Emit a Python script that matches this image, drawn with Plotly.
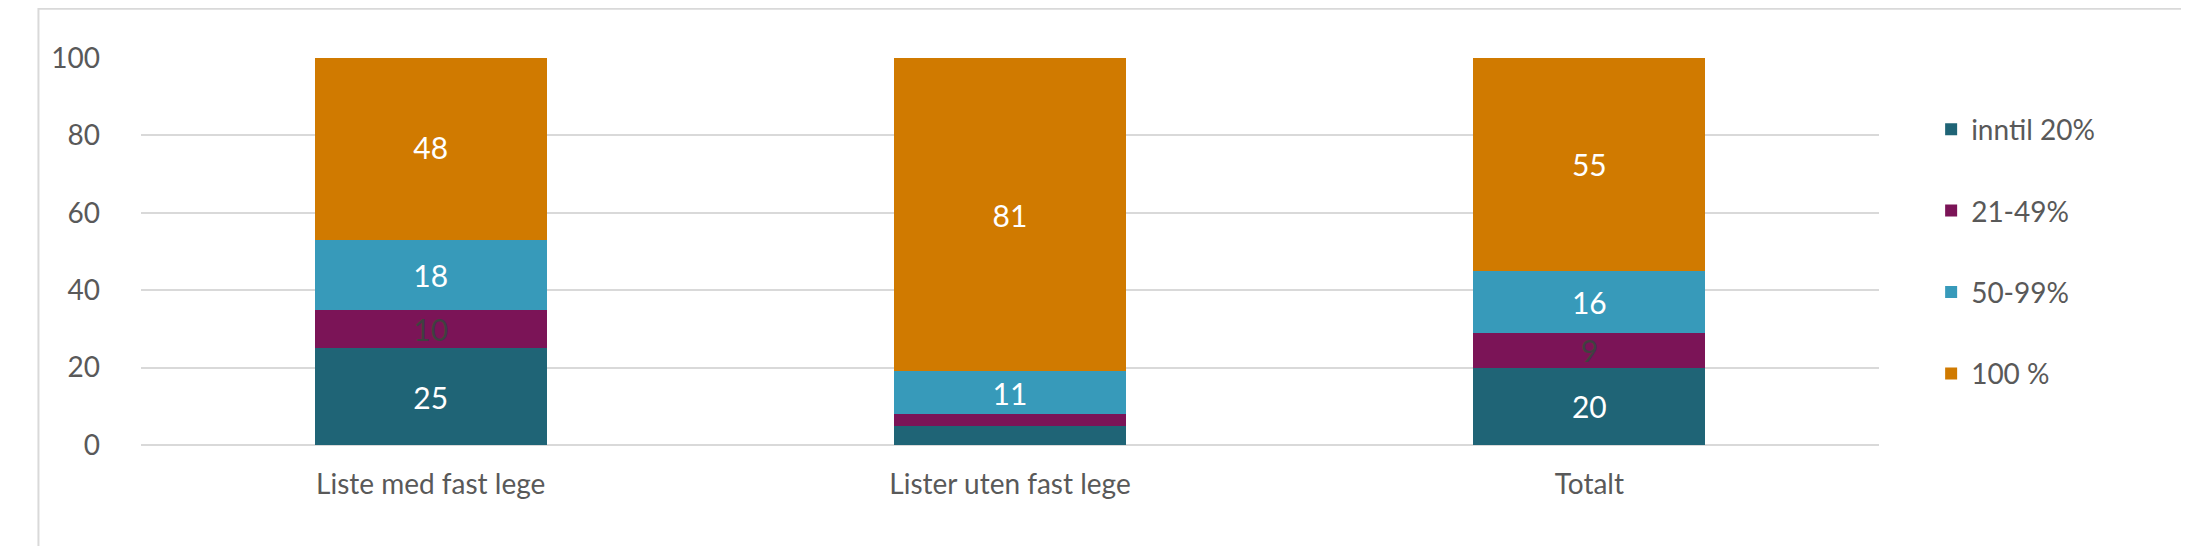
import plotly.graph_objects as go

categories = ["Liste med fast lege", "Lister uten fast lege", "Totalt"]
series_names = ["inntil 20%", "21-49%", "50-99%", "100 %"]
inntil20 = [25, 5, 20]
p21_49 = [10, 3, 9]
p50_99 = [18, 11, 16]
p100 = [48, 81, 55]
colors = ["#1F6476", "#7B1457", "#379ABA", "#D07A00"]
text_colors = ["white", "#404040", "white", "white"]

fig = go.Figure()
for name, vals, c, tc in zip(series_names, [inntil20, p21_49, p50_99, p100], colors, text_colors):
    fig.add_bar(x=categories, y=vals, name=name, legendgroup=name,
                marker=dict(color=c, line=dict(width=0)),
                text=[str(v) if v >= 6 else "" for v in vals], textposition="inside",
                insidetextanchor="middle", textangle=0, constraintext="none",
                textfont=dict(color=tc, size=30, family="Lato"))

fig.update_layout(
    barmode="stack", bargap=0.6, width=2189, height=546,
    paper_bgcolor="white", plot_bgcolor="white",
    font=dict(family="Lato", size=28, color="#595959"),
    margin=dict(l=133, r=318, t=50, b=109),
    uniformtext=dict(minsize=28, mode="show"),
    legend=dict(traceorder="reversed+grouped", x=1.03, y=0.5, yanchor="middle",
                font=dict(size=28, color="#595959"), tracegroupgap=42, itemsizing="constant"),
    xaxis=dict(showline=False, ticks="", tickfont=dict(size=28), ticklabelstandoff=20),
    yaxis=dict(range=[0, 100], dtick=20, gridcolor="#D9D9D9", gridwidth=2, zeroline=True,
               zerolinecolor="#D9D9D9", zerolinewidth=2, tickfont=dict(size=28), ticklabelstandoff=40),
    shapes=[dict(type="rect", xref="paper", yref="paper", x0=-0.059, x1=1.175, y0=-0.28, y1=1.127,
                 line=dict(color="#D9D9D9", width=2))],
)
fig.write_html("out.html")
